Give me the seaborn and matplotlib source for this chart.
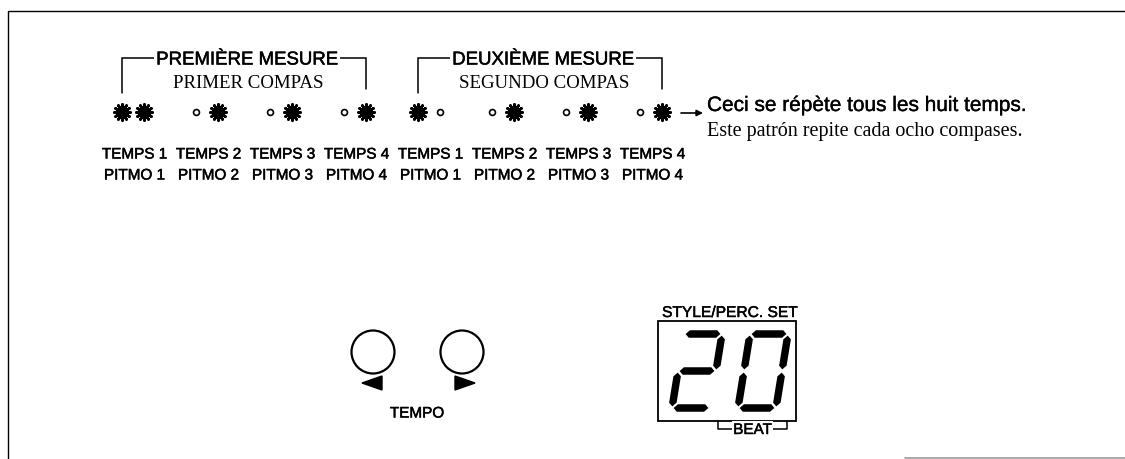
import warnings
import numpy as np
import pandas as pd
import matplotlib
matplotlib.use("Agg")
import matplotlib.pyplot as plt
import matplotlib.patheffects as pe
from matplotlib.patches import Circle, Polygon, Rectangle
import seaborn as sns

# ---------------- data ----------------
measures_fr = ["PREMIÈRE MESURE", "DEUXIÈME MESURE"]
measures_es = ["PRIMER COMPAS", "SEGUNDO COMPAS"]
beats_fr = ["TEMPS 1", "TEMPS 2", "TEMPS 3", "TEMPS 4",
            "TEMPS 1", "TEMPS 2", "TEMPS 3", "TEMPS 4"]
beats_es = ["PITMO 1", "PITMO 2", "PITMO 3", "PITMO 4",
            "PITMO 1", "PITMO 2", "PITMO 3", "PITMO 4"]
led_left = ["on", "off", "off", "off", "on", "off", "off", "off"]
led_right = ["on", "on", "on", "on", "off", "on", "on", "on"]
repeat_fr = "Ceci se répète tous les huit temps."
repeat_es = "Este patrón repite cada ocho compases."
tempo_label = "TEMPO"
display_label = "STYLE/PERC. SET"
display_value = "20"
beat_label = "BEAT"

# seven-segment lookup
SEGMENTS = {"0": "abcdef", "1": "bc", "2": "abged", "3": "abgcd", "4": "fgbc",
            "5": "afgcd", "6": "afgedc", "7": "abc", "8": "abcdefg", "9": "abcdfg"}
# endpoints in digit units (x: 0..1 width, y: 0..1 height, y up)
SEG_UV = {"a": ((0, 1), (1, 1)), "b": ((1, 1), (1, 0.5)),
          "c": ((1, 0.5), (1, 0)), "d": ((0, 0), (1, 0)),
          "e": ((0, 0), (0, 0.5)), "f": ((0, 0.5), (0, 1)),
          "g": ((0, 0.5), (1, 0.5))}

# ---------------- style ----------------
sns.set_theme(style="white")
plt.rcParams["font.family"] = ["Liberation Sans", "DejaVu Sans"]
SERIF = ["Liberation Serif", "DejaVu Serif"]
INK = "black"
BOLDISH = [pe.withStroke(linewidth=0.35, foreground=INK)]

fig = plt.figure(figsize=(11.25, 4.6), dpi=100)
ax = fig.add_axes([0, 0, 1, 1])

# ---------------- layout ----------------
X0, DX, OFF = 133, 74, 10.8
LED_Y = 113
n = len(beats_fr)
beat_x = X0 + DX * np.arange(n)

# LEDs
rows = []
for i in range(n):
    rows.append(dict(x=beat_x[i] - OFF, y=LED_Y, state=led_left[i]))
    rows.append(dict(x=beat_x[i] + OFF, y=LED_Y, state=led_right[i]))
leds = pd.DataFrame(rows)
on = leds[leds.state == "on"]
off = leds[leds.state == "off"]
with warnings.catch_warnings():
    warnings.simplefilter("ignore")
    sns.scatterplot(data=on, x="x", y="y", marker=(12, 2, 0), s=135,
                    color=INK, linewidth=1.9, ax=ax, legend=False, zorder=3)
    sns.scatterplot(data=on, x="x", y="y", marker="o", s=26,
                    color=INK, linewidth=0, ax=ax, legend=False, zorder=4)
    sns.scatterplot(data=off, x="x", y="y", marker="o", s=18,
                    facecolor="white", edgecolor=INK, linewidth=1.2,
                    ax=ax, legend=False, zorder=3)

# beat labels
for i in range(n):
    ax.text(beat_x[i] + 1.5, 159.5, beats_fr[i], ha="center", va="baseline",
            fontsize=11, color=INK, path_effects=BOLDISH)
    ax.text(beat_x[i] + 1.5, 180.5, beats_es[i], ha="center", va="baseline",
            fontsize=11, color=INK, path_effects=BOLDISH)

# measure brackets
TOP = 59
for m in range(2):
    xl = beat_x[4 * m] - OFF
    xr = beat_x[4 * m + 3] + OFF
    ax.plot([xl, xl, xr, xr], [94, TOP, TOP, 90], color=INK, lw=1.1,
            solid_joinstyle="miter")
    cx = (xl + xr) / 2 + 3
    ax.text(cx, TOP + 6.5, measures_fr[m], ha="center", va="baseline",
            fontsize=13.4, color=INK, path_effects=BOLDISH,
            bbox=dict(facecolor="white", edgecolor="none", pad=1.8))
    ax.text(cx + 1, 88, measures_es[m], ha="center", va="baseline",
            fontsize=13.6, color=INK, family=SERIF)

# repeat arrow + notes
ax.annotate("", xy=(703, LED_Y + 1), xytext=(681, LED_Y + 1),
            arrowprops=dict(arrowstyle="-|>", lw=1.2, color=INK,
                            mutation_scale=9, shrinkA=0, shrinkB=0))
ax.text(707, 112, repeat_fr, ha="left", va="baseline", fontsize=15, color=INK,
        path_effects=[pe.withStroke(linewidth=0.25, foreground=INK)])
ax.text(707, 136.5, repeat_es, ha="left", va="baseline", fontsize=14.5,
        color=INK, family=SERIF)

# tempo buttons
for cx in (373, 462):
    ax.add_patch(Circle((cx, 353), 21.5, fill=False, lw=1.6, ec=INK))
ax.add_patch(Polygon([(362, 384), (382, 377), (382, 391)], closed=True, fc=INK, ec=INK))
ax.add_patch(Polygon([(475, 384), (455, 377), (455, 391)], closed=True, fc=INK, ec=INK))
ax.text(417, 418.5, tempo_label, ha="center", va="baseline", fontsize=11, color=INK,
        path_effects=BOLDISH)

# display
ax.text(729.5, 318, display_label, ha="center", va="baseline", fontsize=11.2,
        color=INK, path_effects=BOLDISH)
ax.add_patch(Rectangle((658, 322), 138, 100, fill=False, lw=1.3, ec=INK))
digit_x0 = [672, 738]
W, H, SKEW, YB, T, GAP = 38, 74, 12, 409, 7.5, 1.6


def seg_polygon(p0, p1):
    p0 = np.asarray(p0, float)
    p1 = np.asarray(p1, float)
    d = (p1 - p0) / np.linalg.norm(p1 - p0)
    p0 = p0 + d * GAP
    p1 = p1 - d * GAP
    nrm = np.array([-d[1], d[0]])
    h = T / 2
    return np.array([p0, p0 + d * h + nrm * h, p1 - d * h + nrm * h,
                     p1, p1 - d * h - nrm * h, p0 + d * h - nrm * h])


for ch, x0 in zip(display_value, digit_x0):
    for s in SEGMENTS[ch]:
        (u0, v0), (u1, v1) = SEG_UV[s]
        poly = seg_polygon((u0 * W, v0 * H), (u1 * W, v1 * H))
        xs = x0 + poly[:, 0] + poly[:, 1] / H * SKEW
        ys = YB - poly[:, 1]
        ax.fill(xs, ys, color=INK, lw=0)
ax.plot([718, 718, 787, 787], [422, 430, 430, 422], color=INK, lw=1.1)
ax.text(752.5, 435, beat_label, ha="center", va="baseline", fontsize=11, color=INK,
        path_effects=BOLDISH,
        bbox=dict(facecolor="white", edgecolor="none", pad=1.2))

# frame
ax.plot([8, 8, 1125], [460, 12, 12], color=INK, lw=1.0)
ax.plot([905, 1125], [458.5, 458.5], color="#9a9a9a", lw=1.2)

ax.set_xlim(0, 1125)
ax.set_ylim(460, 0)
ax.set_axis_off()
fig.savefig("out.png", dpi=100, facecolor="white")
